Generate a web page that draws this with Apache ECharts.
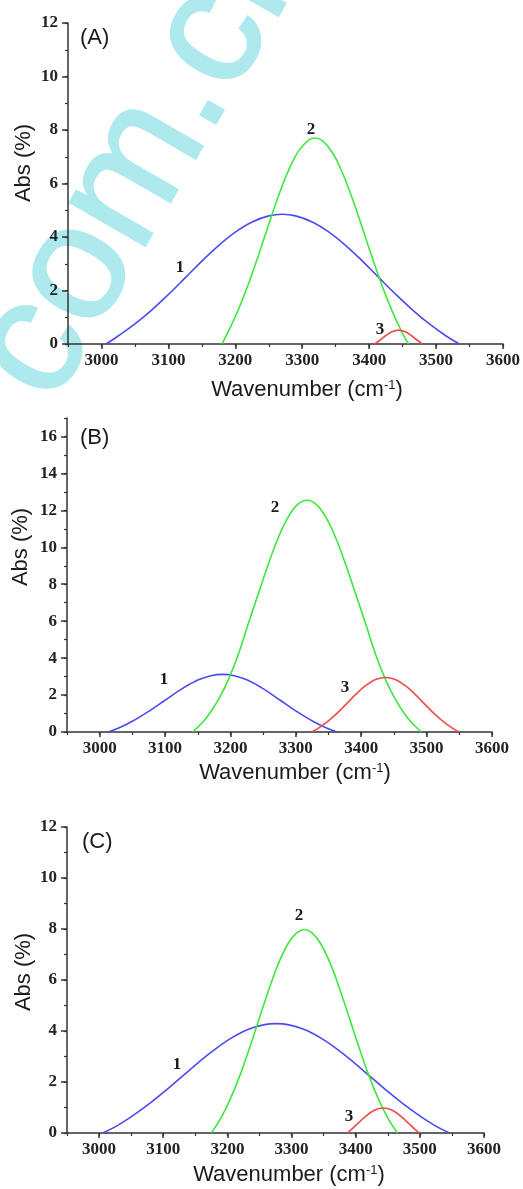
<!DOCTYPE html>
<html>
<head>
<meta charset="utf-8">
<script src="https://cdn.jsdelivr.net/npm/echarts@6/dist/echarts.min.js"></script>
<style>
  html, body { margin: 0; padding: 0; background: #fff; }
  #main { width: 523px; height: 1189px; }
</style>
</head>
<body>
<div id="main"></div>
<script>
// tick values
const xMajor = [3000, 3100, 3200, 3300, 3400, 3500, 3600];
const yMajor = [[0, 2, 4, 6, 8, 10, 12], [0, 2, 4, 6, 8, 10, 12, 14, 16], [0, 2, 4, 6, 8, 10, 12]];
const yMax = [12, 17, 12];
const panelNames = ['(A)', '(B)', '(C)'];

// panel A  [wavenumber, Abs %]
const blueA = [[3007,0],[3025,0.30],[3050,0.75],[3075,1.27],[3100,1.85],[3125,2.47],[3150,3.10],[3175,3.68],[3200,4.18],[3225,4.56],[3250,4.79],[3270,4.85],[3290,4.79],[3315,4.56],[3340,4.18],[3365,3.68],[3390,3.10],[3415,2.47],[3440,1.85],[3465,1.27],[3490,0.75],[3515,0.30],[3535,0]];
const greenA = [[3180,0],[3190,0.49],[3205,1.31],[3220,2.27],[3235,3.35],[3250,4.48],[3265,5.57],[3280,6.52],[3295,7.23],[3310,7.63],[3319,7.70],[3330,7.60],[3345,7.16],[3360,6.40],[3375,5.43],[3390,4.33],[3405,3.20],[3420,2.13],[3435,1.19],[3450,0.39],[3459,0]];
const redA = [[3408,0],[3416,0.14],[3424,0.30],[3434,0.46],[3444,0.52],[3454,0.46],[3464,0.30],[3472,0.14],[3480,0]];

// panel B
const blueB = [[3013,0],[3030,0.23],[3050,0.58],[3075,1.12],[3100,1.72],[3125,2.32],[3150,2.81],[3170,3.05],[3188,3.12],[3206,3.05],[3226,2.81],[3251,2.32],[3276,1.72],[3301,1.12],[3326,0.58],[3346,0.23],[3363,0]];
const greenB = [[3142,0],[3155,0.43],[3167,0.95],[3182,1.78],[3197,2.85],[3212,4.20],[3227,5.83],[3242,7.42],[3257,8.99],[3272,10.42],[3287,11.56],[3302,12.30],[3317,12.55],[3332,12.30],[3347,11.56],[3362,10.42],[3377,8.99],[3392,7.42],[3407,5.83],[3422,4.20],[3437,2.85],[3452,1.78],[3467,0.95],[3479,0.43],[3492,0]];
const redB = [[3324,0],[3334,0.20],[3347,0.52],[3362,0.98],[3377,1.51],[3392,2.05],[3407,2.52],[3422,2.84],[3437,2.95],[3452,2.84],[3467,2.52],[3482,2.05],[3497,1.51],[3512,0.98],[3527,0.52],[3540,0.20],[3550,0]];

// panel C
const blueC = [[3006,0],[3031,0.33],[3056,0.74],[3081,1.20],[3106,1.71],[3131,2.25],[3156,2.79],[3181,3.29],[3206,3.72],[3231,4.05],[3256,4.24],[3276,4.29],[3296,4.24],[3321,4.05],[3346,3.72],[3371,3.29],[3396,2.79],[3421,2.25],[3446,1.71],[3471,1.20],[3496,0.74],[3521,0.33],[3546,0]];
const greenC = [[3175,0],[3190,0.59],[3205,1.36],[3220,2.29],[3235,3.37],[3250,4.52],[3265,5.65],[3280,6.67],[3295,7.44],[3308,7.85],[3320,7.98],[3332,7.85],[3345,7.44],[3360,6.67],[3375,5.65],[3390,4.52],[3405,3.37],[3420,2.29],[3435,1.36],[3450,0.59],[3465,0]];
const redC = [[3387,0],[3393,0.13],[3401,0.32],[3415,0.64],[3429,0.89],[3443,0.98],[3457,0.89],[3471,0.64],[3485,0.32],[3493,0.13],[3499,0]];

const curves = [[blueA, greenA, redA], [blueB, greenB, redB], [blueC, greenC, redC]];
const colors = ['#4b4bf2', '#3de83d', '#f24b4b'];

const axisColor = '#333';
const tickFont = { fontFamily: '"Liberation Serif", serif', fontWeight: 'bold', fontSize: 17, color: '#222' };

let myChart = echarts.init(document.getElementById('main'));

const grids = [
    { left: 68, right: 18, top: 23, height: 321 },
    { left: 67, right: 31, top: 418, height: 314 },
    { left: 67, right: 39, top: 827, height: 306 },
];

let xAxis = [], yAxis = [], series = [];
grids.forEach((g, i) => {
    // major ticks + labels
    xAxis.push({
        gridIndex: i, type: 'value', position: 'bottom', min: 2950, max: 3600, interval: 50, z: 5,
        axisLine: { onZero: false, lineStyle: { color: axisColor, width: 1.5 } },
        axisTick: { customValues: xMajor, length: 5, lineStyle: { color: axisColor, width: 1.5 } },
        axisLabel: Object.assign({ customValues: xMajor, margin: 8, formatter: v => String(v) }, tickFont),
        splitLine: { show: false },
    });
    // minor ticks
    xAxis.push({
        gridIndex: i, type: 'value', position: 'bottom', min: 2950, max: 3600, interval: 50, z: 5,
        axisLine: { show: false, onZero: false },
        axisTick: { length: 3, lineStyle: { color: axisColor, width: 1.2 } },
        axisLabel: { show: false },
        splitLine: { show: false },
    });
    yAxis.push({
        gridIndex: i, type: 'value', position: 'left', min: 0, max: yMax[i], interval: 1, z: 5,
        axisLine: { show: true, onZero: false, lineStyle: { color: axisColor, width: 1.5 } },
        axisTick: { show: true, customValues: yMajor[i], length: 6, lineStyle: { color: axisColor, width: 1.5 } },
        axisLabel: Object.assign({ customValues: yMajor[i], margin: 10 }, tickFont),
        splitLine: { show: false },
    });
    yAxis.push({
        gridIndex: i, type: 'value', position: 'left', min: 0, max: yMax[i], interval: 1, z: 5,
        axisLine: { show: false, onZero: false },
        axisTick: { show: true, length: 3, lineStyle: { color: axisColor, width: 1.2 } },
        axisLabel: { show: false },
        splitLine: { show: false },
    });
    curves[i].forEach((d, k) => {
        series.push({
            type: 'line', xAxisIndex: 2 * i, yAxisIndex: 2 * i, data: d,
            smooth: 0.4, showSymbol: false, silent: true, z: 6,
            lineStyle: { color: colors[k], width: 1.6 },
        });
    });
});

// texts
const sans = '"Liberation Sans", Arial, sans-serif';
const serif = '"Liberation Serif", serif';
function txt(x, y, text, font, extra) {
    return Object.assign({
        type: 'text', x: x, y: y, z: 10,
        style: { text: text, font: font, fill: '#1a1a1a', align: 'center', verticalAlign: 'middle' },
    }, extra || {});
}
const wnTitle = [[307, 390], [295, 773], [289, 1175]];
const absTitle = [[24, 163], [21, 547], [24, 972]];
const panelPos = [[80, 38], [80, 438], [82, 842]];
const numPos = [
    [[180, 268], [311, 130], [380, 330]],
    [[164, 680], [275, 508], [345, 688]],
    [[177, 1065], [299, 916], [349, 1117]],
];

let graphic = [];
// watermark behind the chart
graphic.push({
    type: 'text', x: 13, y: 384, rotation: Math.PI / 3, z: -10, silent: true,
    style: { text: 'com.cn', font: '165px ' + sans, fill: '#aeeaed', stroke: '#aeeaed', lineWidth: 2, align: 'left', verticalAlign: 'middle' },
});
for (let i = 0; i < 3; i++) {
    graphic.push({
        type: 'text', x: wnTitle[i][0], y: wnTitle[i][1], z: 10,
        style: {
            text: 'Wavenumber (cm{sup|-1})', font: '22px ' + sans, fill: '#1a1a1a', align: 'center', verticalAlign: 'middle',
            rich: { sup: { fontSize: 13, fontFamily: sans, verticalAlign: 'top', fill: '#1a1a1a' } },
        },
    });
    graphic.push(txt(absTitle[i][0], absTitle[i][1], 'Abs (%)', '22px ' + sans, { rotation: Math.PI / 2 }));
    graphic.push({
        type: 'text', x: panelPos[i][0], y: panelPos[i][1], z: 10,
        style: { text: panelNames[i], font: '22px ' + sans, fill: '#1a1a1a', align: 'left', verticalAlign: 'middle' },
    });
    numPos[i].forEach((p, k) => {
        graphic.push(txt(p[0], p[1], String(k + 1), 'bold 17px ' + serif));
    });
}

var option = {
    backgroundColor: '#fff',
    animation: false,
    grid: grids,
    xAxis: xAxis,
    yAxis: yAxis,
    series: series,
    graphic: graphic,
};
myChart.setOption(option);
</script>
</body>
</html>
